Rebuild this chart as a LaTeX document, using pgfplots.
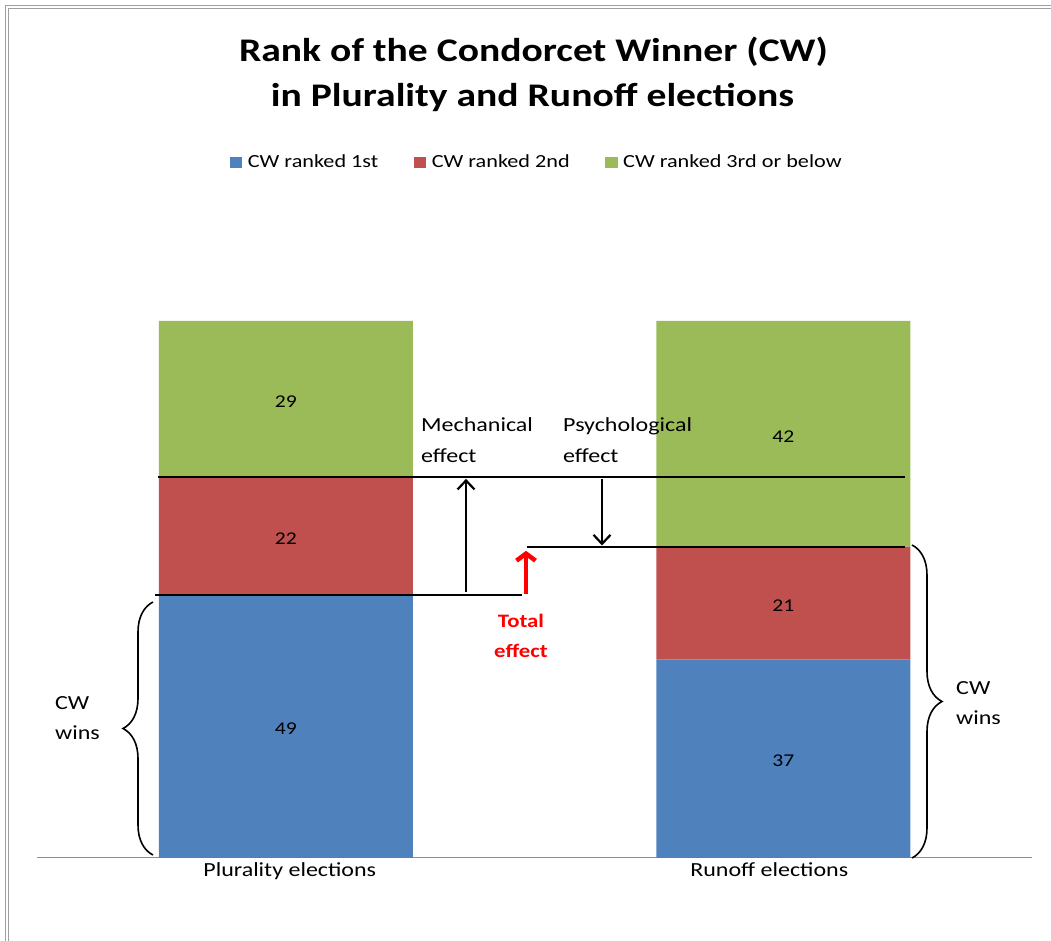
\documentclass[border=0pt]{standalone}
\usepackage{pgfplots}
\pgfplotsset{compat=1.18}
\usepackage{fontspec}
\setmainfont[FakeStretch=1.2]{Carlito}
\usetikzlibrary{arrows.meta,decorations.pathreplacing}
\definecolor{cwblue}{HTML}{4F81BD}
\definecolor{cwred}{HTML}{C0504D}
\definecolor{cwgreen}{HTML}{9BBB59}
\newcommand{\fs}[1]{\fontsize{#1bp}{1.2\dimexpr#1bp\relax}\selectfont}

\begin{document}
\begin{tikzpicture}
\begin{scope}[x=1bp,y=1bp]
\path[use as bounding box] (0,0) rectangle (1051,941);
% frame
\draw[gray!75, line width=1.3bp] (5.5,0) -- (5.5,935.5) -- (1051,935.5);
\draw[gray!75, line width=1.3bp] (8.5,0) -- (8.5,932.5) -- (1051,932.5);
% title
\node[font=\fs{33}\bfseries, anchor=base, inner sep=0] at (533.5,879) {Rank of the Condorcet Winner (CW)};
\node[font=\fs{33}\bfseries, anchor=base, inner sep=0] at (532.5,834) {in Plurality and Runoff elections};
\end{scope}

\begin{axis}[
  at={(37bp,83bp)}, anchor=south west, scale only axis,
  width=995bp, height=537bp,
  ymin=0, ymax=100, xmin=-0.5, xmax=1.5,
  ybar stacked, bar width=254bp,
  axis x line*=bottom, axis y line=none,
  x axis line style={-, draw=gray!90, line width=1bp},
  xtick={0,1}, xticklabels={\hspace{8bp}Plurality elections, \hspace{-28bp}Runoff elections},
  major tick length=0pt, xtick style={draw=none},
  xticklabel style={font=\fs{20}, anchor=base, yshift=-19bp, inner sep=0pt},
  clip=false,
  legend style={at={(0.5025,1.296)}, anchor=center, draw=none, fill=none,
    legend columns=-1, font=\fs{18.5}, nodes={inner sep=2.5bp},
    /tikz/every even column/.append style={column sep=33bp}},
  legend image code/.code={\fill[#1] (0bp,-5.5bp) rectangle (12.5bp,5.5bp); \path (15.5bp,0bp);},
]
\addplot[fill=cwblue, draw=none] coordinates {(0,49) (1,37)};
\addplot[fill=cwred, draw=none] coordinates {(0,22) (1,21)};
\addplot[fill=cwgreen, draw=none] coordinates {(0,29) (1,42)};
\legend{CW ranked 1st, CW ranked 2nd, CW ranked 3rd or below}

% value label positions (segment midpoints)
\coordinate (v49) at (axis cs:0,24.5);
\coordinate (v22) at (axis cs:0,60);
\coordinate (v29) at (axis cs:0,85.5);
\coordinate (v37) at (axis cs:1,18.5);
\coordinate (v21) at (axis cs:1,47.5);
\coordinate (v42) at (axis cs:1,79);
% level lines
\coordinate (a1) at (axis cs:-0.2568,71);
\coordinate (a2) at (axis cs:1.2447,71);
\coordinate (b1) at (axis cs:-0.2628,49);
\coordinate (b2) at (axis cs:0.4749,49);
\coordinate (c1) at (axis cs:0.4849,58);
\coordinate (c2) at (axis cs:1.2447,58);
% arrows
\coordinate (m1) at (axis cs:0.3623,49.5);
\coordinate (m2) at (axis cs:0.3623,70.6);
\coordinate (p1) at (axis cs:0.6357,70.6);
\coordinate (p2) at (axis cs:0.6357,58.2);
\coordinate (t1) at (axis cs:0.4829,49.2);
\coordinate (t2) at (axis cs:0.4829,57.2);
\end{axis}

\foreach \n in {49,22,29,37,21,42} {\node[font=\fs{18}, yshift=-2.5bp] at (v\n) {\n};}
\draw[line width=2bp] (a1) -- (a2);
\draw[line width=2bp] (b1) -- (b2);
\draw[line width=2bp] (c1) -- (c2);
\draw[line width=2.2bp, -{Straight Barb[length=9bp,width=17bp]}] (m1) -- (m2);
\draw[line width=2.2bp, -{Straight Barb[length=9bp,width=17bp]}] (p1) -- (p2);
\draw[red, line width=4.5bp, -{Straight Barb[length=7bp,width=19bp]}] (t1) -- (t2);

\begin{scope}[x=1bp,y=1bp]
% braces
\draw[line width=1.6bp, decorate, decoration={brace, amplitude=30bp}] (153,86) -- (153,339);
\draw[line width=1.6bp, decorate, decoration={brace, amplitude=30bp}] (912,396) -- (912,83);

% annotation texts
\node[font=\fs{20}, anchor=base west, inner sep=0] at (421,509) {Mechanical};
\node[font=\fs{20}, anchor=base west, inner sep=0] at (421,478) {effect};
\node[font=\fs{20}, anchor=base west, inner sep=0] at (563,509) {Psychological};
\node[font=\fs{20}, anchor=base west, inner sep=0] at (563,478) {effect};
\node[font=\fs{19}\bfseries, text=red, anchor=base, inner sep=0] at (521,313) {Total};
\node[font=\fs{19}\bfseries, text=red, anchor=base, inner sep=0] at (521,283) {effect};
\node[font=\fs{20}, anchor=base west, inner sep=0] at (55,231) {CW};
\node[font=\fs{20}, anchor=base west, inner sep=0] at (55,201) {wins};
\node[font=\fs{20}, anchor=base west, inner sep=0] at (956,246) {CW};
\node[font=\fs{20}, anchor=base west, inner sep=0] at (956,216) {wins};
\end{scope}
\end{tikzpicture}
\end{document}
